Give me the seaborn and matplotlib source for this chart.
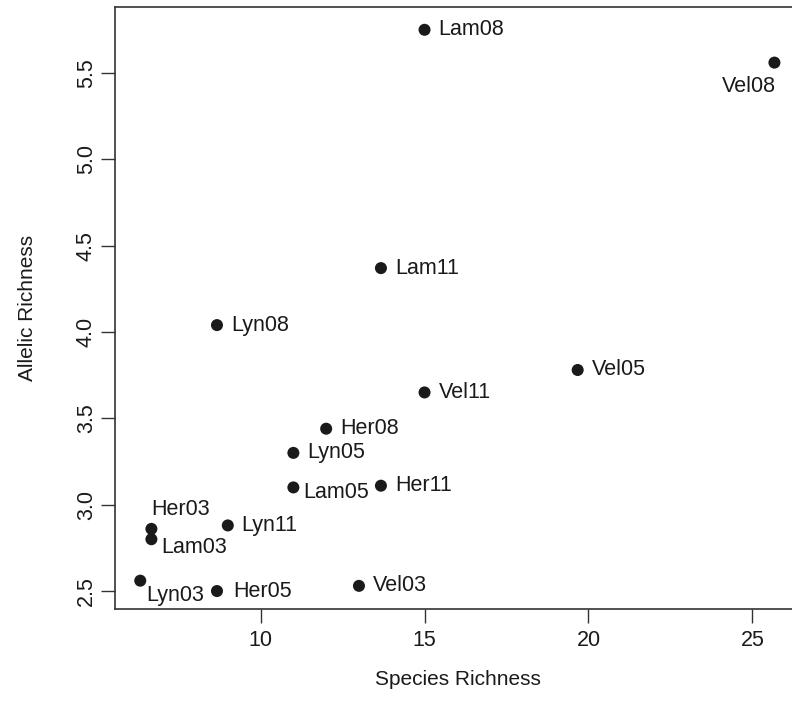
import matplotlib
matplotlib.use("Agg")
import matplotlib.pyplot as plt
import seaborn as sns
import pandas as pd

# values
sites = ["Lam08", "Vel08", "Lam11", "Lyn08", "Vel05", "Vel11", "Her08", "Lyn05",
         "Lam05", "Her11", "Her03", "Lam03", "Lyn11", "Lyn03", "Her05", "Vel03"]
species_richness = [15.0, 25.67, 13.67, 8.67, 19.67, 15.0, 12.0, 11.0,
                    11.0, 13.67, 6.67, 6.67, 9.0, 6.33, 8.67, 13.0]
allelic_richness = [5.75, 5.56, 4.37, 4.04, 3.78, 3.65, 3.44, 3.30,
                    3.10, 3.11, 2.86, 2.80, 2.88, 2.56, 2.50, 2.53]

data = pd.DataFrame({"site": sites, "species": species_richness, "allelic": allelic_richness})

sns.set_style("white")
plt.rcParams["font.family"] = ["Liberation Sans", "DejaVu Sans"]

fig = plt.figure(figsize=(7.92, 7.22), dpi=100)
ax = fig.add_axes([115 / 792, 113 / 722, 685 / 792, 602 / 722])

sns.scatterplot(data=data, x="species", y="allelic", ax=ax, s=75,
                color="#1a1a1a", edgecolor="none", legend=False)

# label placement (offset in points, alignment) - default is to the right
place = {
    "Vel08": (1, -17, "right"),
    "Her03": (0, 14, "left"),
    "Lam03": (7, -6, "left"),
    "Lam05": (7, -4, "left"),
    "Lyn03": (4, -11, "left"),
    "Her05": (12, 0, "left"),
}
for _, row in data.iterrows():
    dx, dy, ha = place.get(row["site"], (10, 0, "left"))
    ax.annotate(row["site"], (row["species"], row["allelic"]), xytext=(dx, dy),
                textcoords="offset points", ha=ha, va="center", fontsize=15.5,
                color="#1a1a1a")

ax.set_xlim(5.56, 26.45)
ax.set_ylim(2.396, 5.882)
ax.set_xticks([10, 15, 20, 25])
ax.set_yticks([2.5, 3.0, 3.5, 4.0, 4.5, 5.0, 5.5])
ax.set_yticklabels(["2.5", "3.0", "3.5", "4.0", "4.5", "5.0", "5.5"], rotation=90, va="center")
ax.tick_params(axis="both", direction="out", length=10, width=1, color="#333333",
               labelsize=15.5, pad=5, left=True, bottom=True, labelcolor="#1a1a1a")
ax.tick_params(axis="y", pad=3)
for sp in ax.spines.values():
    sp.set_color("#333333")
    sp.set_linewidth(1.2)

ax.set_xlabel("Species Richness", fontsize=15, labelpad=14, color="#1a1a1a")
ax.set_ylabel("Allelic Richness", fontsize=15, labelpad=28, color="#1a1a1a")

fig.savefig("out.png", dpi=100)
